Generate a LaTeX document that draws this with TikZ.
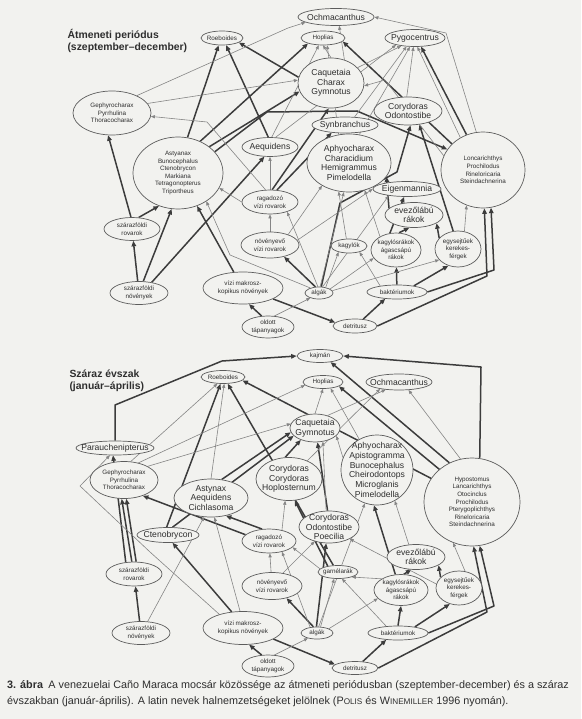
\documentclass[tikz,border=0pt]{standalone}
\usepackage{fontspec}
\setmainfont{Liberation Sans}
\usepackage{tikz}
\usetikzlibrary{arrows.meta,shapes.geometric,backgrounds}
\definecolor{fwpaper}{HTML}{F2F2EF}
\definecolor{fwink}  {HTML}{2E2E2E}
\definecolor{fwrim}  {HTML}{5C5C5C}
\definecolor{fwdark} {HTML}{3C3C3C}
\definecolor{fwgrey} {HTML}{858585}
\tikzset{
  fwnode/.style={ellipse, draw=fwrim, fill=fwpaper, inner sep=-14pt, line width=0.7pt,
                 text=fwink, align=center},
  fwsmall/.style={fwnode, font=\fontsize{6.3}{7.6}\selectfont},
  fwbig/.style={fwnode, font=\fontsize{8.6}{9.7}\selectfont},
  fwstrong/.style={-{Triangle[length=5.5pt,width=4.5pt]}, draw=fwdark,
                   line width=1.5pt, line join=round},
  fwweak/.style={-{Triangle[length=4pt,width=3.2pt]}, draw=fwgrey,
                 line width=0.6pt, line join=round},
  fwtitle/.style={anchor=north west, align=left, text=fwink,
                  font=\bfseries\fontsize{10.4}{12}\selectfont},
  fwcaption/.style={anchor=north west, align=left, text=fwink, inner sep=0pt,
                    font=\fontsize{10.8}{16}\selectfont},
}

\begin{document}
\begin{tikzpicture}[x=1pt,y=-1pt]
  \useasboundingbox (0,0) rectangle (581,719);
  \begin{scope}[on background layer]
    \fill[fwpaper] (0,0) rectangle (581,719);
  \end{scope}

  \node[fwtitle] (aTitle) at (64,26) {Átmeneti periódus\\(szeptember--december)};
  \node[fwsmall, minimum width=42pt, minimum height=14pt] (aRoe) at (222,38) {Roeboides};
  \node[fwbig, minimum width=76pt, minimum height=17pt] (aOch) at (336,17) {Ochmacanthus};
  \node[fwsmall, minimum width=44pt, minimum height=14pt] (aHop) at (323,38) {Hoplias};
  \node[fwbig, minimum width=60pt, minimum height=17pt] (aPyg) at (415,38) {Pygocentrus};
  \node[fwbig, minimum width=66pt, minimum height=50pt] (aCaq) at (331,83) {Caquetaia\\Charax\\Gymnotus};
  \node[fwsmall, minimum width=78pt, minimum height=44pt] (aGep) at (112,113) {Gephyrocharax\\Pyrrhulina\\Thoracocharax};
  \node[fwsmall, minimum width=90pt, minimum height=72pt] (aAst) at (178,173)
    {Astyanax\\Bunocephalus\\Ctenobrycon\\Markiana\\Tetragonopterus\\Triportheus};
  \node[fwbig, minimum width=56pt, minimum height=19pt] (aAeq) at (270,147) {Aequidens};
  \node[fwbig, minimum width=66pt, minimum height=16pt] (aSyn) at (345,125) {Synbranchus};
  \node[fwbig, minimum width=68pt, minimum height=28pt] (aCor) at (408,111) {Corydoras\\Odontostibe};
  \node[fwbig, minimum width=84pt, minimum height=58pt] (aAph) at (349,163)
    {Aphyocharax\\Characidium\\Hemigrammus\\Pimelodella};
  \node[fwsmall, minimum width=84pt, minimum height=76pt] (aLor) at (483,170)
    {Loncarichthys\\Prochilodus\\Rineloricaria\\Steindachnerina};
  \node[fwbig, minimum width=68pt, minimum height=15pt] (aEig) at (407,189) {Eigenmannia};
  \node[fwbig, minimum width=58pt, minimum height=25pt] (aEve) at (414,215) {evezőlábú\\rákok};
  \node[fwsmall, minimum width=36pt, minimum height=14pt] (aKag) at (349,246) {kagylók};
  \node[fwsmall, minimum width=50pt, minimum height=34pt] (aKgr) at (396,250) {kagylósrákok\\ágascsápú\\rákok};
  \node[fwsmall, minimum width=46pt, minimum height=36pt] (aEgy) at (458,249) {egysejtűek\\kerekes-\\férgek};
  \node[fwsmall, minimum width=60pt, minimum height=14pt] (aBak) at (397,292) {baktériumok};
  \node[fwsmall, minimum width=44pt, minimum height=14pt] (aDet) at (355,326) {detritusz};
  \node[fwsmall, minimum width=28pt, minimum height=12pt] (aAlg) at (319,293) {algák};
  \node[fwsmall, minimum width=52pt, minimum height=22pt] (aOld) at (268,327) {oldott\\tápanyagok};
  \node[fwsmall, minimum width=80pt, minimum height=32pt] (aViz) at (243,288) {vízi makrosz-\\kopikus növények};
  \node[fwsmall, minimum width=58pt, minimum height=26pt] (aNov) at (270,245) {növényevő\\vízi rovarok};
  \node[fwsmall, minimum width=56pt, minimum height=24pt] (aRag) at (270,202) {ragadozó\\vízi rovarok};
  \node[fwsmall, minimum width=56pt, minimum height=23pt] (aSzr) at (132,229) {szárazföldi\\rovarok};
  \node[fwsmall, minimum width=58pt, minimum height=23pt] (aSzn) at (139,293) {szárazföldi\\növények};

  \node[fwtitle] (sTitle) at (66,366) {Száraz évszak\\(január--április)};
  \node[fwsmall, minimum width=46pt, minimum height=13pt] (sKaj) at (320,356) {kajmán};
  \node[fwsmall, minimum width=44pt, minimum height=13pt] (sRoe) at (223,377) {Roeboides};
  \node[fwsmall, minimum width=40pt, minimum height=13pt] (sHop) at (323,382) {Hoplias};
  \node[fwbig, minimum width=66pt, minimum height=16pt] (sOch) at (399,382) {Ochmacanthus};
  \node[fwbig, minimum width=50pt, minimum height=28pt] (sCaq) at (315,428) {Caquetaia\\Gymnotus};
  \node[fwbig, minimum width=78pt, minimum height=14pt] (sPar) at (115,448) {Parauchenipterus};
  \node[fwsmall, minimum width=68pt, minimum height=37pt] (sGep) at (124,480) {Gephyrocharax\\Pyrrhulina\\Thoracocharax};
  \node[fwbig, minimum width=74pt, minimum height=38pt] (sAst) at (211,498) {Astynax\\Aequidens\\Cichlasoma};
  \node[fwbig, minimum width=62pt, minimum height=15pt] (sCte) at (168,535) {Ctenobrycon};
  \node[fwbig, minimum width=66pt, minimum height=43pt] (sCoh) at (289,479) {Corydoras\\Corydoras\\Hoplosternum};
  \node[fwbig, minimum width=72pt, minimum height=70pt] (sAph) at (377,470)
    {Aphyocharax\\Apistogramma\\Bunocephalus\\Cheirodontops\\Microglanis\\Pimelodella};
  \node[fwsmall, minimum width=96pt, minimum height=88pt] (sHyp) at (472,502)
    {Hypostomus\\Lancarichthys\\Otocinclus\\Prochilodus\\Pterygoplichthys\\Rineloricaria\\Steindachnerina};
  \node[fwbig, minimum width=60pt, minimum height=32pt] (sCoo) at (329,527) {Corydoras\\Odontostibe\\Poecilia};
  \node[fwsmall, minimum width=54pt, minimum height=24pt] (sRag) at (269,541) {ragadozó\\vízi rovarok};
  \node[fwsmall, minimum width=60pt, minimum height=27pt] (sNov) at (272,586) {növényevő\\vízi rovarok};
  \node[fwsmall, minimum width=40pt, minimum height=13pt] (sGar) at (338,572) {garnélarák};
  \node[fwbig, minimum width=58pt, minimum height=25pt] (sEve) at (416,557) {evezőlábú\\rákok};
  \node[fwsmall, minimum width=54pt, minimum height=31pt] (sKgr) at (401,590) {kagylósrákok\\ágascsápú\\rákok};
  \node[fwsmall, minimum width=46pt, minimum height=34pt] (sEgy) at (459,588) {egysejtűek\\kerekes-\\férgek};
  \node[fwsmall, minimum width=60pt, minimum height=14pt] (sBak) at (398,633) {baktériumok};
  \node[fwsmall, minimum width=32pt, minimum height=12pt] (sAlg) at (317,633) {algák};
  \node[fwsmall, minimum width=46pt, minimum height=13pt] (sDet) at (355,668) {detritusz};
  \node[fwsmall, minimum width=52pt, minimum height=22pt] (sOld) at (268,666) {oldott\\tápanyagok};
  \node[fwsmall, minimum width=80pt, minimum height=33pt] (sViz) at (243,628) {vízi makrosz-\\kopikus növények};
  \node[fwsmall, minimum width=56pt, minimum height=24pt] (sSzr) at (134,574) {szárazföldi\\rovarok};
  \node[fwsmall, minimum width=58pt, minimum height=23pt] (sSzn) at (141,633) {szárazföldi\\növények};

  \node[fwcaption] (caption) at (7,680)
    {\textbf{3. ábra}\enspace A venezuelai Caño Maraca mocsár közössége az átmeneti periódusban (szeptember-december) és a száraz\\
     évszakban (január-április). A latin nevek halnemzetségeket jelölnek
     (P{\fontsize{8.2}{9}\selectfont OLIS} és W{\fontsize{8.2}{9}\selectfont INEMILLER} 1996 nyomán).};

  \begin{scope}[on background layer]
    \draw[fwstrong] (aAst.75) -- (aRoe.-115);
    \draw[fwstrong] (aAeq.100) -- (aRoe.-60);
    \draw[fwstrong] (aAst.55) -- (aHop.200);
    \draw[fwstrong] (aAst.40) -- (aCaq.195);
    \draw[fwstrong] (aAst.30) -- (267,112) -- (357,111) -- (aLor.150);
    \draw[fwstrong] (aCaq.170) -- (aRoe.-15);
    \draw[fwstrong] (aLor.140) -- (aHop.-10);
    \draw[fwstrong] (aLor.115) -- (aPyg.-55);
    \draw[fwstrong] (aSzr.95) -- (aGep.-100);
    \draw[fwstrong] (aSzr.60) -- (aAst.-120);
    \draw[fwstrong] (aSzn) -- (aSzr);
    \draw[fwstrong] (aSzn.70) -- (aAst.-100);
    \draw[fwstrong] (aSzn.40) -- (aAeq.-120);
    \draw[fwstrong] (aViz.120) -- (aAst.-60);
    \draw[fwstrong] (aViz.-20) -- (aDet.170);
    \draw[fwstrong] (aOld.120) -- (aViz.-70);
    \draw[fwstrong] (aAlg.120) -- (aNov.-40);
    \draw[fwstrong] (aAlg.70) -- (340,203) -- (397,172) -- (aCor.-80);
    \draw[fwstrong] (aBak) -- (aKgr);
    \draw[fwstrong] (aBak.20) -- (aEgy.-120);
    \draw[fwstrong] (aDet.40) -- (aBak.-150);
    \draw[fwstrong] (aDet.east) -- (487,276) -- (aLor.-88);
    \draw[fwstrong] (aBak.east) -- (494,270) -- (aLor.-78);
    \draw[fwstrong] (aEgy.150) -- (aEve.-20);
    \draw[fwstrong] (aKgr.80) -- (aEve.-110);
    \draw[fwstrong] (aKgr.110) -- (aEig.-110);
    \draw[fwstrong] (aEve.165) -- (aAph.-20);
    \draw[fwstrong] (aEgy.105) -- (aCor.-50);
    \draw[fwstrong] (aRag.60) -- (aSyn.210);
    \draw[fwstrong] (aRag.80) -- (aCaq.-95);

    \draw[fwweak] (aLor.100) -- (446,33) -- (aOch.east);
    \draw[fwweak] (aLor.160) -- (385,80) -- (aCaq.-5);
    \draw[fwweak] (aLor.125) -- (aPyg.-75);
    \draw[fwweak] (aCaq.90) -- (aHop.-90);
    \draw[fwweak] (aCaq.60) -- (aOch.-70);
    \draw[fwweak] (aCaq.30) -- (aPyg.-150);
    \draw[fwweak] (aGep.15) -- (aCaq.175);
    \draw[fwweak] (aGep.35) -- (288,28) -- (aOch.190);
    \draw[fwweak] (aRag.110) -- (207,122) -- (aGep.-5);
    \draw[fwweak] (aRag.west) -- (aAst.-20);
    \draw[fwweak] (aRag.90) -- (aAeq.-90);
    \draw[fwweak] (aNov) -- (aRag);
    \draw[fwweak] (aAlg.150) -- (230,255) -- (aAst.-45);
    \draw[fwweak] (aAlg.40) -- (aKag.-150);
    \draw[fwweak] (aAlg.20) -- (aKgr.-160);
    \draw[fwweak] (aAlg.10) -- (aEgy.-150);
    \draw[fwweak] (aAlg.60) -- (aEig.-160);
    \draw[fwweak] (aAlg.100) -- (aRag.-30);
    \draw[fwweak] (aAlg.80) -- (aAph.-100);
    \draw[fwweak] (aOld.60) -- (aAlg.-150);
    \draw[fwweak] (aBak.160) -- (aKag.-30);
    \draw[fwweak] (aKag.110) -- (aAph.-110);
    \draw[fwweak] (aKgr.140) -- (aAph.-60);
    \draw[fwweak] (aEgy.70) -- (aLor.-115);
    \draw[fwweak] (aAph.70) -- (aPyg.-120);
    \draw[fwweak] (aAph.110) -- (aHop.-60);
    \draw[fwweak] (aSyn.40) -- (aPyg.-135);
    \draw[fwweak] (aCor.95) -- (aPyg.-100);
    \draw[fwweak] (aAeq.60) -- (aPyg.-160);
    \draw[fwweak] (aAeq.80) -- (aHop.-120);
    \draw[fwweak] (aNov.30) -- (aAph.-140);
    \draw[fwweak] (aNov.10) -- (aEig.180);

    \draw[fwstrong] (sPar.north) -- (115,405) -- (222,361) -- (sKaj.west);
    \draw[fwstrong] (sHyp.80) -- (481,367) -- (sKaj.east);
    \draw[fwstrong] (sHyp.135) -- (sHop.-15);
    \draw[fwstrong] (sHyp.150) -- (sRoe.-10);
    \draw[fwstrong] (sHyp.120) -- (sKaj.-30);
    \draw[fwstrong] (sSzn) -- (sSzr);
    \draw[fwstrong] (sSzr.100) -- (sGep.-97);
    \draw[fwstrong] (sSzr.80) -- (sGep.-83);
    \draw[fwstrong] (sSzr.125) -- (sPar.-105);
    \draw[fwstrong] (sRag.165) -- (sGep.-40);
    \draw[fwstrong] (sRag.120) -- (sAst.-50);
    \draw[fwstrong] (sViz.125) -- (sCte.-60);
    \draw[fwstrong] (sViz.-20) -- (sDet.170);
    \draw[fwstrong] (sOld.120) -- (sViz.-70);
    \draw[fwstrong] (sAlg.120) -- (sNov.-40);
    \draw[fwstrong] (sAlg.95) -- (sCoo.-100);
    \draw[fwstrong] (sGar.125) -- (sRoe.-55);
    \draw[fwstrong] (sGar.150) -- (sCoh.-75);
    \draw[fwstrong] (sBak.90) -- (sKgr.-90);
    \draw[fwstrong] (sBak.20) -- (sEgy.-120);
    \draw[fwstrong] (sDet.40) -- (sBak.-150);
    \draw[fwstrong] (sDet.east) -- (487,612) -- (sHyp.-88);
    \draw[fwstrong] (sBak.east) -- (494,606) -- (sHyp.-80);
    \draw[fwstrong] (sEgy.150) -- (sEve.-20);
    \draw[fwstrong] (sKgr.80) -- (sEve.-110);
    \draw[fwstrong] (sAst.60) -- (sCaq.190);
    \draw[fwstrong] (sCte.100) -- (sRoe.-110);
    \draw[fwstrong] (sCte.60) -- (sCaq.200);
    \draw[fwstrong] (sCoh.100) -- (sCaq.220);
    \draw[fwstrong] (sCoo.95) -- (sCaq.-80);
    \draw[fwstrong] (sKgr.110) -- (sAph.-95);

    \draw[fwweak] (sHyp.105) -- (sOch.-40);
    \draw[fwweak] (sCaq.90) -- (sHop.-90);
    \draw[fwweak] (sCaq.45) -- (sOch.-150);
    \draw[fwweak] (sGep.30) -- (sCaq.170);
    \draw[fwweak] (sGep.50) -- (sHop.190);
    \draw[fwweak] (sGep.70) -- (sRoe.-130);
    \draw[fwweak] (sAst.90) -- (sRoe.-80);
    \draw[fwweak] (sSzn.60) -- (sAst.-110);
    \draw[fwweak] (sViz.100) -- (sAst.-80);
    \draw[fwweak] (sViz.150) -- (150,552) -- (80,486) -- (sPar.-125);
    \draw[fwweak] (sNov) -- (sRag);
    \draw[fwweak] (sAlg.60) -- (sGar.-120);
    \draw[fwweak] (sAlg.20) -- (sKgr.-160);
    \draw[fwweak] (sAlg.140) -- (sRag.-40);
    \draw[fwweak] (sAlg.75) -- (sAph.-110);
    \draw[fwweak] (sBak.150) -- (sGar.-60);
    \draw[fwweak] (sOld.60) -- (sAlg.-150);
    \draw[fwweak] (sKgr.150) -- (sGar.-20);
    \draw[fwweak] (sGar.170) -- (sRag.-15);
    \draw[fwweak] (sEgy.70) -- (sHyp.-115);
    \draw[fwweak] (sEgy.170) -- (sCoo.-30);
    \draw[fwweak] (sEve.120) -- (sAph.-60);
    \draw[fwweak] (sCoo.100) -- (sCaq.-60);
    \draw[fwweak] (sAph.160) -- (sCaq.-20);
    \draw[fwweak] (sAph.120) -- (sHop.-40);
    \draw[fwweak] (sCoh.45) -- (sOch.-160);
    \draw[fwweak] (sNov.50) -- (sCoo.-135);
    \draw[fwweak] (sRag.40) -- (sCoh.-100);
  \end{scope}
\end{tikzpicture}
\end{document}
